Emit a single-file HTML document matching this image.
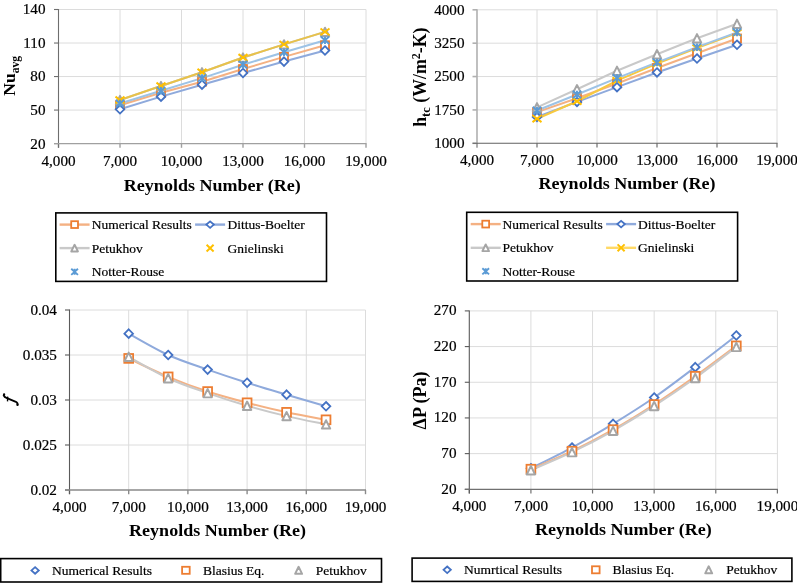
<!DOCTYPE html><html><head><meta charset="utf-8"><style>html,body{margin:0;padding:0;background:#fff;}svg{display:block;will-change:transform;}</style></head><body>
<svg width="797" height="583" viewBox="0 0 797 583">
<rect width="797" height="583" fill="#fff"/>
<line x1="58.5" y1="110.07" x2="366" y2="110.07" stroke="#DCDCDC" stroke-width="1"/>
<line x1="58.5" y1="76.55" x2="366" y2="76.55" stroke="#DCDCDC" stroke-width="1"/>
<line x1="58.5" y1="43.03" x2="366" y2="43.03" stroke="#DCDCDC" stroke-width="1"/>
<line x1="58.5" y1="9.5" x2="366" y2="9.5" stroke="#DCDCDC" stroke-width="1"/>
<line x1="120" y1="9.5" x2="120" y2="143.6" stroke="#DCDCDC" stroke-width="1"/>
<line x1="181.5" y1="9.5" x2="181.5" y2="143.6" stroke="#DCDCDC" stroke-width="1"/>
<line x1="243" y1="9.5" x2="243" y2="143.6" stroke="#DCDCDC" stroke-width="1"/>
<line x1="304.5" y1="9.5" x2="304.5" y2="143.6" stroke="#DCDCDC" stroke-width="1"/>
<line x1="366" y1="9.5" x2="366" y2="143.6" stroke="#DCDCDC" stroke-width="1"/>
<line x1="54" y1="143.6" x2="58.5" y2="143.6" stroke="#6e6e6e" stroke-width="1.1"/>
<line x1="54" y1="110.07" x2="58.5" y2="110.07" stroke="#6e6e6e" stroke-width="1.1"/>
<line x1="54" y1="76.55" x2="58.5" y2="76.55" stroke="#6e6e6e" stroke-width="1.1"/>
<line x1="54" y1="43.03" x2="58.5" y2="43.03" stroke="#6e6e6e" stroke-width="1.1"/>
<line x1="54" y1="9.5" x2="58.5" y2="9.5" stroke="#6e6e6e" stroke-width="1.1"/>
<line x1="58.5" y1="143.6" x2="58.5" y2="147.8" stroke="#a0a0a0" stroke-width="1.4"/>
<line x1="120" y1="143.6" x2="120" y2="147.8" stroke="#a0a0a0" stroke-width="1.4"/>
<line x1="181.5" y1="143.6" x2="181.5" y2="147.8" stroke="#a0a0a0" stroke-width="1.4"/>
<line x1="243" y1="143.6" x2="243" y2="147.8" stroke="#a0a0a0" stroke-width="1.4"/>
<line x1="304.5" y1="143.6" x2="304.5" y2="147.8" stroke="#a0a0a0" stroke-width="1.4"/>
<line x1="366" y1="143.6" x2="366" y2="147.8" stroke="#a0a0a0" stroke-width="1.4"/>
<line x1="58.5" y1="9" x2="58.5" y2="147.8" stroke="#6e6e6e" stroke-width="1.1"/>
<line x1="54" y1="143.6" x2="366.5" y2="143.6" stroke="#a0a0a0" stroke-width="1.4"/>
<g font-family='"Liberation Serif", serif' font-size="14.3" fill="#000" stroke="#000" stroke-width="0.2">
<text transform="translate(45.5 148.5) scale(1.06 1)" text-anchor="end">20</text>
<text transform="translate(45.5 114.97) scale(1.06 1)" text-anchor="end">50</text>
<text transform="translate(45.5 81.45) scale(1.06 1)" text-anchor="end">80</text>
<text transform="translate(45.5 47.93) scale(1.06 1)" text-anchor="end">110</text>
<text transform="translate(45.5 14.4) scale(1.06 1)" text-anchor="end">140</text>
<text transform="translate(58.5 166.1) scale(1.06 1)" text-anchor="middle">4,000</text>
<text transform="translate(120 166.1) scale(1.06 1)" text-anchor="middle">7,000</text>
<text transform="translate(181.5 166.1) scale(1.06 1)" text-anchor="middle">10,000</text>
<text transform="translate(243 166.1) scale(1.06 1)" text-anchor="middle">13,000</text>
<text transform="translate(304.5 166.1) scale(1.06 1)" text-anchor="middle">16,000</text>
<text transform="translate(366 166.1) scale(1.06 1)" text-anchor="middle">19,000</text>
</g>
<text transform="translate(212.25 190.5) scale(1.03 1)" text-anchor="middle" font-family='"Liberation Serif", serif' font-weight="bold" font-size="17.5">Reynolds Number (Re)</text>
<text transform="translate(15.2 95.7) rotate(-90)" font-family='"Liberation Serif", serif' font-weight="bold" font-size="17.5">Nu<tspan font-size="11.6" dy="3.8">avg</tspan></text>
<path d="M120 105.27L161 92.75L202 81.69L243 69.06L284 56.88L325 45.26" fill="none" stroke="#F4B183" stroke-width="2" stroke-linejoin="round"/>
<path d="M120 109.29L161 96.66L202 84.71L243 72.97L284 61.58L325 50.51" fill="none" stroke="#8FAADC" stroke-width="2" stroke-linejoin="round"/>
<path d="M120 100.02L161 86.05L202 72.3L243 57.55L284 44.37L325 31.85" fill="none" stroke="#C9C9C9" stroke-width="2" stroke-linejoin="round"/>
<path d="M120 100.02L161 86.05L202 72.3L243 57.55L284 44.37L325 31.85" fill="none" stroke="#E8C24A" stroke-width="2" stroke-linejoin="round"/>
<path d="M120 103.48L161 90.74L202 78.11L243 64.7L284 52.19L325 40.23" fill="none" stroke="#9DC3E6" stroke-width="2" stroke-linejoin="round"/>
<rect x="116" y="101.27" width="8" height="8" fill="#fff" stroke="#ED7D31" stroke-width="1.8"/>
<rect x="157" y="88.75" width="8" height="8" fill="#fff" stroke="#ED7D31" stroke-width="1.8"/>
<rect x="198" y="77.69" width="8" height="8" fill="#fff" stroke="#ED7D31" stroke-width="1.8"/>
<rect x="239" y="65.06" width="8" height="8" fill="#fff" stroke="#ED7D31" stroke-width="1.8"/>
<rect x="280" y="52.88" width="8" height="8" fill="#fff" stroke="#ED7D31" stroke-width="1.8"/>
<rect x="321" y="41.26" width="8" height="8" fill="#fff" stroke="#ED7D31" stroke-width="1.8"/>
<path d="M120 104.99L124.3 109.29L120 113.59L115.7 109.29Z" fill="#fff" stroke="#4472C4" stroke-width="1.8"/>
<path d="M161 92.36L165.3 96.66L161 100.96L156.7 96.66Z" fill="#fff" stroke="#4472C4" stroke-width="1.8"/>
<path d="M202 80.41L206.3 84.71L202 89.01L197.7 84.71Z" fill="#fff" stroke="#4472C4" stroke-width="1.8"/>
<path d="M243 68.67L247.3 72.97L243 77.27L238.7 72.97Z" fill="#fff" stroke="#4472C4" stroke-width="1.8"/>
<path d="M284 57.28L288.3 61.58L284 65.88L279.7 61.58Z" fill="#fff" stroke="#4472C4" stroke-width="1.8"/>
<path d="M325 46.21L329.3 50.51L325 54.81L320.7 50.51Z" fill="#fff" stroke="#4472C4" stroke-width="1.8"/>
<path d="M120 95.82L124.2 104.22L115.8 104.22Z" fill="#fff" stroke="#A5A5A5" stroke-width="1.95" stroke-linejoin="round"/>
<path d="M161 81.85L165.2 90.25L156.8 90.25Z" fill="#fff" stroke="#A5A5A5" stroke-width="1.95" stroke-linejoin="round"/>
<path d="M202 68.1L206.2 76.5L197.8 76.5Z" fill="#fff" stroke="#A5A5A5" stroke-width="1.95" stroke-linejoin="round"/>
<path d="M243 53.35L247.2 61.75L238.8 61.75Z" fill="#fff" stroke="#A5A5A5" stroke-width="1.95" stroke-linejoin="round"/>
<path d="M284 40.17L288.2 48.57L279.8 48.57Z" fill="#fff" stroke="#A5A5A5" stroke-width="1.95" stroke-linejoin="round"/>
<path d="M325 27.65L329.2 36.05L320.8 36.05Z" fill="#fff" stroke="#A5A5A5" stroke-width="1.95" stroke-linejoin="round"/>
<path d="M115.5 96.62L124.5 103.42M124.5 96.62L115.5 103.42" stroke="#FFC000" stroke-width="1.95" fill="none"/>
<path d="M156.5 82.65L165.5 89.45M165.5 82.65L156.5 89.45" stroke="#FFC000" stroke-width="1.95" fill="none"/>
<path d="M197.5 68.9L206.5 75.7M206.5 68.9L197.5 75.7" stroke="#FFC000" stroke-width="1.95" fill="none"/>
<path d="M238.5 54.15L247.5 60.95M247.5 54.15L238.5 60.95" stroke="#FFC000" stroke-width="1.95" fill="none"/>
<path d="M279.5 40.97L288.5 47.77M288.5 40.97L279.5 47.77" stroke="#FFC000" stroke-width="1.95" fill="none"/>
<path d="M320.5 28.45L329.5 35.25M329.5 28.45L320.5 35.25" stroke="#FFC000" stroke-width="1.95" fill="none"/>
<path d="M115.8 99.68L124.2 107.28M124.2 99.68L115.8 107.28M120 99.68L120 107.28" stroke="#5B9BD5" stroke-width="1.9" fill="none"/>
<path d="M156.8 86.94L165.2 94.54M165.2 86.94L156.8 94.54M161 86.94L161 94.54" stroke="#5B9BD5" stroke-width="1.9" fill="none"/>
<path d="M197.8 74.31L206.2 81.91M206.2 74.31L197.8 81.91M202 74.31L202 81.91" stroke="#5B9BD5" stroke-width="1.9" fill="none"/>
<path d="M238.8 60.9L247.2 68.5M247.2 60.9L238.8 68.5M243 60.9L243 68.5" stroke="#5B9BD5" stroke-width="1.9" fill="none"/>
<path d="M279.8 48.39L288.2 55.99M288.2 48.39L279.8 55.99M284 48.39L284 55.99" stroke="#5B9BD5" stroke-width="1.9" fill="none"/>
<path d="M320.8 36.43L329.2 44.03M329.2 36.43L320.8 44.03M325 36.43L325 44.03" stroke="#5B9BD5" stroke-width="1.9" fill="none"/>
<line x1="477" y1="109.93" x2="777" y2="109.93" stroke="#DCDCDC" stroke-width="1"/>
<line x1="477" y1="76.55" x2="777" y2="76.55" stroke="#DCDCDC" stroke-width="1"/>
<line x1="477" y1="43.18" x2="777" y2="43.18" stroke="#DCDCDC" stroke-width="1"/>
<line x1="477" y1="9.8" x2="777" y2="9.8" stroke="#DCDCDC" stroke-width="1"/>
<line x1="537" y1="9.8" x2="537" y2="143.3" stroke="#DCDCDC" stroke-width="1"/>
<line x1="597" y1="9.8" x2="597" y2="143.3" stroke="#DCDCDC" stroke-width="1"/>
<line x1="657" y1="9.8" x2="657" y2="143.3" stroke="#DCDCDC" stroke-width="1"/>
<line x1="717" y1="9.8" x2="717" y2="143.3" stroke="#DCDCDC" stroke-width="1"/>
<line x1="777" y1="9.8" x2="777" y2="143.3" stroke="#DCDCDC" stroke-width="1"/>
<line x1="472.5" y1="143.3" x2="477" y2="143.3" stroke="#b0b0b0" stroke-width="1.6"/>
<line x1="472.5" y1="109.93" x2="477" y2="109.93" stroke="#b0b0b0" stroke-width="1.6"/>
<line x1="472.5" y1="76.55" x2="477" y2="76.55" stroke="#b0b0b0" stroke-width="1.6"/>
<line x1="472.5" y1="43.18" x2="477" y2="43.18" stroke="#b0b0b0" stroke-width="1.6"/>
<line x1="472.5" y1="9.8" x2="477" y2="9.8" stroke="#b0b0b0" stroke-width="1.6"/>
<line x1="477" y1="143.3" x2="477" y2="147.5" stroke="#606060" stroke-width="1.1"/>
<line x1="537" y1="143.3" x2="537" y2="147.5" stroke="#606060" stroke-width="1.1"/>
<line x1="597" y1="143.3" x2="597" y2="147.5" stroke="#606060" stroke-width="1.1"/>
<line x1="657" y1="143.3" x2="657" y2="147.5" stroke="#606060" stroke-width="1.1"/>
<line x1="717" y1="143.3" x2="717" y2="147.5" stroke="#606060" stroke-width="1.1"/>
<line x1="777" y1="143.3" x2="777" y2="147.5" stroke="#606060" stroke-width="1.1"/>
<line x1="477" y1="9.3" x2="477" y2="147.5" stroke="#b0b0b0" stroke-width="1.6"/>
<line x1="472.5" y1="143.3" x2="777.5" y2="143.3" stroke="#606060" stroke-width="1.1"/>
<g font-family='"Liberation Serif", serif' font-size="14.3" fill="#000" stroke="#000" stroke-width="0.2">
<text transform="translate(464.5 148.2) scale(1.06 1)" text-anchor="end">1000</text>
<text transform="translate(464.5 114.83) scale(1.06 1)" text-anchor="end">1750</text>
<text transform="translate(464.5 81.45) scale(1.06 1)" text-anchor="end">2500</text>
<text transform="translate(464.5 48.08) scale(1.06 1)" text-anchor="end">3250</text>
<text transform="translate(464.5 14.7) scale(1.06 1)" text-anchor="end">4000</text>
<text transform="translate(477 164.6) scale(1.06 1)" text-anchor="middle">4,000</text>
<text transform="translate(537 164.6) scale(1.06 1)" text-anchor="middle">7,000</text>
<text transform="translate(597 164.6) scale(1.06 1)" text-anchor="middle">10,000</text>
<text transform="translate(657 164.6) scale(1.06 1)" text-anchor="middle">13,000</text>
<text transform="translate(717 164.6) scale(1.06 1)" text-anchor="middle">16,000</text>
<text transform="translate(777 164.6) scale(1.06 1)" text-anchor="middle">19,000</text>
</g>
<text transform="translate(627 189.2) scale(1.03 1)" text-anchor="middle" font-family='"Liberation Serif", serif' font-weight="bold" font-size="17.5">Reynolds Number (Re)</text>
<text transform="translate(426.3 126.8) rotate(-90)" font-family='"Liberation Serif", serif' font-weight="bold" font-size="17.8">h<tspan font-size="12.5" dy="3.6">tc</tspan><tspan dy="-3.6"> (W/m</tspan><tspan font-size="12" dy="-6">2</tspan><tspan dy="6">-K)</tspan></text>
<path d="M537 112.15L577 98.27L617 83.45L657 68.01L697 53.19L737 38.5" fill="none" stroke="#F4B183" stroke-width="2" stroke-linejoin="round"/>
<path d="M537 117.05L577 101.92L617 87.14L657 72.46L697 58.53L737 44.78" fill="none" stroke="#8FAADC" stroke-width="2" stroke-linejoin="round"/>
<path d="M537 107.34L577 89.23L617 70.77L657 54.26L697 38.28L737 23.77" fill="none" stroke="#C9C9C9" stroke-width="2" stroke-linejoin="round"/>
<path d="M537 118.74L577 101.25L617 80.56L657 63.65L697 48.07L737 32.94" fill="none" stroke="#F7C940" stroke-width="2" stroke-linejoin="round"/>
<path d="M537 110.5L577 94.48L617 78.11L657 62.44L697 47.18L737 32.36" fill="none" stroke="#9DC3E6" stroke-width="2" stroke-linejoin="round"/>
<rect x="533" y="108.15" width="8" height="8" fill="#fff" stroke="#ED7D31" stroke-width="1.8"/>
<rect x="573" y="94.27" width="8" height="8" fill="#fff" stroke="#ED7D31" stroke-width="1.8"/>
<rect x="613" y="79.45" width="8" height="8" fill="#fff" stroke="#ED7D31" stroke-width="1.8"/>
<rect x="653" y="64.01" width="8" height="8" fill="#fff" stroke="#ED7D31" stroke-width="1.8"/>
<rect x="693" y="49.19" width="8" height="8" fill="#fff" stroke="#ED7D31" stroke-width="1.8"/>
<rect x="733" y="34.5" width="8" height="8" fill="#fff" stroke="#ED7D31" stroke-width="1.8"/>
<path d="M537 112.75L541.3 117.05L537 121.35L532.7 117.05Z" fill="#fff" stroke="#4472C4" stroke-width="1.8"/>
<path d="M577 97.62L581.3 101.92L577 106.22L572.7 101.92Z" fill="#fff" stroke="#4472C4" stroke-width="1.8"/>
<path d="M617 82.84L621.3 87.14L617 91.44L612.7 87.14Z" fill="#fff" stroke="#4472C4" stroke-width="1.8"/>
<path d="M657 68.16L661.3 72.46L657 76.76L652.7 72.46Z" fill="#fff" stroke="#4472C4" stroke-width="1.8"/>
<path d="M697 54.23L701.3 58.53L697 62.83L692.7 58.53Z" fill="#fff" stroke="#4472C4" stroke-width="1.8"/>
<path d="M737 40.48L741.3 44.78L737 49.08L732.7 44.78Z" fill="#fff" stroke="#4472C4" stroke-width="1.8"/>
<path d="M537 103.14L541.2 111.54L532.8 111.54Z" fill="#fff" stroke="#A5A5A5" stroke-width="1.95" stroke-linejoin="round"/>
<path d="M577 85.03L581.2 93.43L572.8 93.43Z" fill="#fff" stroke="#A5A5A5" stroke-width="1.95" stroke-linejoin="round"/>
<path d="M617 66.57L621.2 74.97L612.8 74.97Z" fill="#fff" stroke="#A5A5A5" stroke-width="1.95" stroke-linejoin="round"/>
<path d="M657 50.06L661.2 58.46L652.8 58.46Z" fill="#fff" stroke="#A5A5A5" stroke-width="1.95" stroke-linejoin="round"/>
<path d="M697 34.08L701.2 42.48L692.8 42.48Z" fill="#fff" stroke="#A5A5A5" stroke-width="1.95" stroke-linejoin="round"/>
<path d="M737 19.57L741.2 27.97L732.8 27.97Z" fill="#fff" stroke="#A5A5A5" stroke-width="1.95" stroke-linejoin="round"/>
<path d="M532.5 115.34L541.5 122.14M541.5 115.34L532.5 122.14" stroke="#FFC000" stroke-width="1.95" fill="none"/>
<path d="M572.5 97.85L581.5 104.65M581.5 97.85L572.5 104.65" stroke="#FFC000" stroke-width="1.95" fill="none"/>
<path d="M612.5 77.16L621.5 83.96M621.5 77.16L612.5 83.96" stroke="#FFC000" stroke-width="1.95" fill="none"/>
<path d="M652.5 60.25L661.5 67.05M661.5 60.25L652.5 67.05" stroke="#FFC000" stroke-width="1.95" fill="none"/>
<path d="M692.5 44.67L701.5 51.47M701.5 44.67L692.5 51.47" stroke="#FFC000" stroke-width="1.95" fill="none"/>
<path d="M732.5 29.54L741.5 36.34M741.5 29.54L732.5 36.34" stroke="#FFC000" stroke-width="1.95" fill="none"/>
<path d="M532.8 106.7L541.2 114.3M541.2 106.7L532.8 114.3M537 106.7L537 114.3" stroke="#5B9BD5" stroke-width="1.9" fill="none"/>
<path d="M572.8 90.68L581.2 98.28M581.2 90.68L572.8 98.28M577 90.68L577 98.28" stroke="#5B9BD5" stroke-width="1.9" fill="none"/>
<path d="M612.8 74.31L621.2 81.91M621.2 74.31L612.8 81.91M617 74.31L617 81.91" stroke="#5B9BD5" stroke-width="1.9" fill="none"/>
<path d="M652.8 58.64L661.2 66.24M661.2 58.64L652.8 66.24M657 58.64L657 66.24" stroke="#5B9BD5" stroke-width="1.9" fill="none"/>
<path d="M692.8 43.38L701.2 50.98M701.2 43.38L692.8 50.98M697 43.38L697 50.98" stroke="#5B9BD5" stroke-width="1.9" fill="none"/>
<path d="M732.8 28.56L741.2 36.16M741.2 28.56L732.8 36.16M737 28.56L737 36.16" stroke="#5B9BD5" stroke-width="1.9" fill="none"/>
<line x1="69.5" y1="445" x2="365.5" y2="445" stroke="#DCDCDC" stroke-width="1"/>
<line x1="69.5" y1="400" x2="365.5" y2="400" stroke="#DCDCDC" stroke-width="1"/>
<line x1="69.5" y1="355" x2="365.5" y2="355" stroke="#DCDCDC" stroke-width="1"/>
<line x1="69.5" y1="310" x2="365.5" y2="310" stroke="#DCDCDC" stroke-width="1"/>
<line x1="128.7" y1="310" x2="128.7" y2="490" stroke="#DCDCDC" stroke-width="1"/>
<line x1="187.9" y1="310" x2="187.9" y2="490" stroke="#DCDCDC" stroke-width="1"/>
<line x1="247.1" y1="310" x2="247.1" y2="490" stroke="#DCDCDC" stroke-width="1"/>
<line x1="306.3" y1="310" x2="306.3" y2="490" stroke="#DCDCDC" stroke-width="1"/>
<line x1="365.5" y1="310" x2="365.5" y2="490" stroke="#DCDCDC" stroke-width="1"/>
<line x1="65" y1="490" x2="69.5" y2="490" stroke="#5a5a5a" stroke-width="1.1"/>
<line x1="65" y1="445" x2="69.5" y2="445" stroke="#5a5a5a" stroke-width="1.1"/>
<line x1="65" y1="400" x2="69.5" y2="400" stroke="#5a5a5a" stroke-width="1.1"/>
<line x1="65" y1="355" x2="69.5" y2="355" stroke="#5a5a5a" stroke-width="1.1"/>
<line x1="65" y1="310" x2="69.5" y2="310" stroke="#5a5a5a" stroke-width="1.1"/>
<line x1="69.5" y1="490" x2="69.5" y2="494.2" stroke="#8a8a8a" stroke-width="1.4"/>
<line x1="128.7" y1="490" x2="128.7" y2="494.2" stroke="#8a8a8a" stroke-width="1.4"/>
<line x1="187.9" y1="490" x2="187.9" y2="494.2" stroke="#8a8a8a" stroke-width="1.4"/>
<line x1="247.1" y1="490" x2="247.1" y2="494.2" stroke="#8a8a8a" stroke-width="1.4"/>
<line x1="306.3" y1="490" x2="306.3" y2="494.2" stroke="#8a8a8a" stroke-width="1.4"/>
<line x1="365.5" y1="490" x2="365.5" y2="494.2" stroke="#8a8a8a" stroke-width="1.4"/>
<line x1="69.5" y1="309.5" x2="69.5" y2="494.2" stroke="#5a5a5a" stroke-width="1.1"/>
<line x1="65" y1="490" x2="366" y2="490" stroke="#8a8a8a" stroke-width="1.4"/>
<g font-family='"Liberation Serif", serif' font-size="14.3" fill="#000" stroke="#000" stroke-width="0.2">
<text transform="translate(56.9 494.9) scale(1.06 1)" text-anchor="end">0.02</text>
<text transform="translate(56.9 449.9) scale(1.06 1)" text-anchor="end">0.025</text>
<text transform="translate(56.9 404.9) scale(1.06 1)" text-anchor="end">0.03</text>
<text transform="translate(56.9 359.9) scale(1.06 1)" text-anchor="end">0.035</text>
<text transform="translate(56.9 314.9) scale(1.06 1)" text-anchor="end">0.04</text>
<text transform="translate(69.5 511.9) scale(1.06 1)" text-anchor="middle">4,000</text>
<text transform="translate(128.7 511.9) scale(1.06 1)" text-anchor="middle">7,000</text>
<text transform="translate(187.9 511.9) scale(1.06 1)" text-anchor="middle">10,000</text>
<text transform="translate(247.1 511.9) scale(1.06 1)" text-anchor="middle">13,000</text>
<text transform="translate(306.3 511.9) scale(1.06 1)" text-anchor="middle">16,000</text>
<text transform="translate(365.5 511.9) scale(1.06 1)" text-anchor="middle">19,000</text>
</g>
<text transform="translate(217.5 535.6) scale(1.03 1)" text-anchor="middle" font-family='"Liberation Serif", serif' font-weight="bold" font-size="17.5">Reynolds Number (Re)</text>
<g fill="#000" stroke="#000" stroke-linecap="round"><path d="M3.7 395.4Q4.3 397.2 7 398.1L15.3 401.5Q17.9 402.7 17.6 404.6" fill="none" stroke-width="1.9"/><circle cx="4.1" cy="394.5" r="1.15" stroke="none"/><circle cx="17.5" cy="404.9" r="1.1" stroke="none"/><path d="M7.7 396.6L7.5 401.4" stroke-width="1.4" stroke-linecap="butt"/></g>
<path d="M128.7 333.67C135.28 337.23 155.01 349.01 168.17 355C181.32 360.99 194.48 364.96 207.63 369.58C220.79 374.2 233.94 378.54 247.1 382.72C260.26 386.91 273.41 390.76 286.57 394.69C299.72 398.62 319.46 404.37 326.03 406.3" fill="none" stroke="#8FAADC" stroke-width="2" stroke-linejoin="round"/>
<path d="M128.7 358.42C135.28 361.5 155.01 371.35 168.17 376.87C181.32 382.39 194.48 387.22 207.63 391.54C220.79 395.86 233.94 399.32 247.1 402.79C260.26 406.25 273.41 409.5 286.57 412.33C299.72 415.17 319.46 418.56 326.03 419.8" fill="none" stroke="#F4B183" stroke-width="2" stroke-linejoin="round"/>
<path d="M128.7 356.8C135.28 360.37 155.01 372.16 168.17 378.22C181.32 384.28 194.48 388.57 207.63 393.16C220.79 397.75 233.94 401.94 247.1 405.76C260.26 409.58 273.41 413 286.57 416.11C299.72 419.22 319.46 423.01 326.03 424.39" fill="none" stroke="#C9C9C9" stroke-width="2" stroke-linejoin="round"/>
<path d="M128.7 329.37L133 333.67L128.7 337.97L124.4 333.67Z" fill="#fff" stroke="#4472C4" stroke-width="1.8"/>
<path d="M168.17 350.7L172.47 355L168.17 359.3L163.87 355Z" fill="#fff" stroke="#4472C4" stroke-width="1.8"/>
<path d="M207.63 365.28L211.93 369.58L207.63 373.88L203.33 369.58Z" fill="#fff" stroke="#4472C4" stroke-width="1.8"/>
<path d="M247.1 378.42L251.4 382.72L247.1 387.02L242.8 382.72Z" fill="#fff" stroke="#4472C4" stroke-width="1.8"/>
<path d="M286.57 390.39L290.87 394.69L286.57 398.99L282.27 394.69Z" fill="#fff" stroke="#4472C4" stroke-width="1.8"/>
<path d="M326.03 402L330.33 406.3L326.03 410.6L321.73 406.3Z" fill="#fff" stroke="#4472C4" stroke-width="1.8"/>
<rect x="124.3" y="354.02" width="8.8" height="8.8" fill="#fff" stroke="#ED7D31" stroke-width="1.8"/>
<rect x="163.77" y="372.47" width="8.8" height="8.8" fill="#fff" stroke="#ED7D31" stroke-width="1.8"/>
<rect x="203.23" y="387.14" width="8.8" height="8.8" fill="#fff" stroke="#ED7D31" stroke-width="1.8"/>
<rect x="242.7" y="398.39" width="8.8" height="8.8" fill="#fff" stroke="#ED7D31" stroke-width="1.8"/>
<rect x="282.17" y="407.93" width="8.8" height="8.8" fill="#fff" stroke="#ED7D31" stroke-width="1.8"/>
<rect x="321.63" y="415.4" width="8.8" height="8.8" fill="#fff" stroke="#ED7D31" stroke-width="1.8"/>
<path d="M128.7 352.6L132.9 361L124.5 361Z" fill="#fff" stroke="#A5A5A5" stroke-width="1.95" stroke-linejoin="round"/>
<path d="M168.17 374.02L172.37 382.42L163.97 382.42Z" fill="#fff" stroke="#A5A5A5" stroke-width="1.95" stroke-linejoin="round"/>
<path d="M207.63 388.96L211.83 397.36L203.43 397.36Z" fill="#fff" stroke="#A5A5A5" stroke-width="1.95" stroke-linejoin="round"/>
<path d="M247.1 401.56L251.3 409.96L242.9 409.96Z" fill="#fff" stroke="#A5A5A5" stroke-width="1.95" stroke-linejoin="round"/>
<path d="M286.57 411.91L290.77 420.31L282.37 420.31Z" fill="#fff" stroke="#A5A5A5" stroke-width="1.95" stroke-linejoin="round"/>
<path d="M326.03 420.19L330.23 428.59L321.83 428.59Z" fill="#fff" stroke="#A5A5A5" stroke-width="1.95" stroke-linejoin="round"/>
<line x1="469.3" y1="453.62" x2="777.4" y2="453.62" stroke="#DCDCDC" stroke-width="1"/>
<line x1="469.3" y1="417.94" x2="777.4" y2="417.94" stroke="#DCDCDC" stroke-width="1"/>
<line x1="469.3" y1="382.26" x2="777.4" y2="382.26" stroke="#DCDCDC" stroke-width="1"/>
<line x1="469.3" y1="346.58" x2="777.4" y2="346.58" stroke="#DCDCDC" stroke-width="1"/>
<line x1="469.3" y1="310.9" x2="777.4" y2="310.9" stroke="#DCDCDC" stroke-width="1"/>
<line x1="530.92" y1="310.9" x2="530.92" y2="489.3" stroke="#DCDCDC" stroke-width="1"/>
<line x1="592.54" y1="310.9" x2="592.54" y2="489.3" stroke="#DCDCDC" stroke-width="1"/>
<line x1="654.16" y1="310.9" x2="654.16" y2="489.3" stroke="#DCDCDC" stroke-width="1"/>
<line x1="715.78" y1="310.9" x2="715.78" y2="489.3" stroke="#DCDCDC" stroke-width="1"/>
<line x1="777.4" y1="310.9" x2="777.4" y2="489.3" stroke="#DCDCDC" stroke-width="1"/>
<line x1="464.8" y1="489.3" x2="469.3" y2="489.3" stroke="#5a5a5a" stroke-width="1.1"/>
<line x1="464.8" y1="453.62" x2="469.3" y2="453.62" stroke="#5a5a5a" stroke-width="1.1"/>
<line x1="464.8" y1="417.94" x2="469.3" y2="417.94" stroke="#5a5a5a" stroke-width="1.1"/>
<line x1="464.8" y1="382.26" x2="469.3" y2="382.26" stroke="#5a5a5a" stroke-width="1.1"/>
<line x1="464.8" y1="346.58" x2="469.3" y2="346.58" stroke="#5a5a5a" stroke-width="1.1"/>
<line x1="464.8" y1="310.9" x2="469.3" y2="310.9" stroke="#5a5a5a" stroke-width="1.1"/>
<line x1="469.3" y1="489.3" x2="469.3" y2="493.5" stroke="#707070" stroke-width="1.2"/>
<line x1="530.92" y1="489.3" x2="530.92" y2="493.5" stroke="#707070" stroke-width="1.2"/>
<line x1="592.54" y1="489.3" x2="592.54" y2="493.5" stroke="#707070" stroke-width="1.2"/>
<line x1="654.16" y1="489.3" x2="654.16" y2="493.5" stroke="#707070" stroke-width="1.2"/>
<line x1="715.78" y1="489.3" x2="715.78" y2="493.5" stroke="#707070" stroke-width="1.2"/>
<line x1="777.4" y1="489.3" x2="777.4" y2="493.5" stroke="#707070" stroke-width="1.2"/>
<line x1="469.3" y1="310.4" x2="469.3" y2="493.5" stroke="#5a5a5a" stroke-width="1.1"/>
<line x1="464.8" y1="489.3" x2="777.9" y2="489.3" stroke="#707070" stroke-width="1.2"/>
<g font-family='"Liberation Serif", serif' font-size="14.3" fill="#000" stroke="#000" stroke-width="0.2">
<text transform="translate(456.5 493.6) scale(1.06 1)" text-anchor="end">20</text>
<text transform="translate(456.5 457.92) scale(1.06 1)" text-anchor="end">70</text>
<text transform="translate(456.5 422.24) scale(1.06 1)" text-anchor="end">120</text>
<text transform="translate(456.5 386.56) scale(1.06 1)" text-anchor="end">170</text>
<text transform="translate(456.5 350.88) scale(1.06 1)" text-anchor="end">220</text>
<text transform="translate(456.5 315.2) scale(1.06 1)" text-anchor="end">270</text>
<text transform="translate(469.3 510.8) scale(1.06 1)" text-anchor="middle">4,000</text>
<text transform="translate(530.92 510.8) scale(1.06 1)" text-anchor="middle">7,000</text>
<text transform="translate(592.54 510.8) scale(1.06 1)" text-anchor="middle">10,000</text>
<text transform="translate(654.16 510.8) scale(1.06 1)" text-anchor="middle">13,000</text>
<text transform="translate(715.78 510.8) scale(1.06 1)" text-anchor="middle">16,000</text>
<text transform="translate(777.4 510.8) scale(1.06 1)" text-anchor="middle">19,000</text>
</g>
<text transform="translate(623.35 535.2) scale(1.03 1)" text-anchor="middle" font-family='"Liberation Serif", serif' font-weight="bold" font-size="17.5">Reynolds Number (Re)</text>
<text transform="translate(425.8 429.4) rotate(-90)" font-family='"Liberation Serif", serif' font-weight="bold" font-size="18">ΔP (Pa)</text>
<path d="M530.92 468.25C537.77 464.8 558.31 454.95 572 447.55C585.69 440.16 599.39 432.2 613.08 423.86C626.77 415.53 640.47 406.99 654.16 397.53C667.85 388.08 681.55 377.47 695.24 367.13C708.93 356.8 729.47 340.79 736.32 335.52" fill="none" stroke="#8FAADC" stroke-width="2" stroke-linejoin="round"/>
<path d="M530.92 469.18C537.77 466.18 558.31 457.78 572 451.19C585.69 444.6 599.39 437.42 613.08 429.64C626.77 421.86 640.47 413.42 654.16 404.52C667.85 395.63 681.55 386.04 695.24 376.27C708.93 366.49 729.47 350.93 736.32 345.87" fill="none" stroke="#F4B183" stroke-width="2" stroke-linejoin="round"/>
<path d="M530.92 470.25C537.77 467.24 558.31 458.77 572 452.19C585.69 445.62 599.39 438.49 613.08 430.78C626.77 423.08 640.47 414.75 654.16 405.95C667.85 397.15 681.55 387.81 695.24 377.98C708.93 368.14 729.47 352.11 736.32 346.94" fill="none" stroke="#C9C9C9" stroke-width="2" stroke-linejoin="round"/>
<path d="M530.92 463.95L535.22 468.25L530.92 472.55L526.62 468.25Z" fill="#fff" stroke="#4472C4" stroke-width="1.8"/>
<path d="M572 443.25L576.3 447.55L572 451.85L567.7 447.55Z" fill="#fff" stroke="#4472C4" stroke-width="1.8"/>
<path d="M613.08 419.56L617.38 423.86L613.08 428.16L608.78 423.86Z" fill="#fff" stroke="#4472C4" stroke-width="1.8"/>
<path d="M654.16 393.23L658.46 397.53L654.16 401.83L649.86 397.53Z" fill="#fff" stroke="#4472C4" stroke-width="1.8"/>
<path d="M695.24 362.83L699.54 367.13L695.24 371.43L690.94 367.13Z" fill="#fff" stroke="#4472C4" stroke-width="1.8"/>
<path d="M736.32 331.22L740.62 335.52L736.32 339.82L732.02 335.52Z" fill="#fff" stroke="#4472C4" stroke-width="1.8"/>
<rect x="526.52" y="464.78" width="8.8" height="8.8" fill="#fff" stroke="#ED7D31" stroke-width="1.8"/>
<rect x="567.6" y="446.79" width="8.8" height="8.8" fill="#fff" stroke="#ED7D31" stroke-width="1.8"/>
<rect x="608.68" y="425.24" width="8.8" height="8.8" fill="#fff" stroke="#ED7D31" stroke-width="1.8"/>
<rect x="649.76" y="400.12" width="8.8" height="8.8" fill="#fff" stroke="#ED7D31" stroke-width="1.8"/>
<rect x="690.84" y="371.87" width="8.8" height="8.8" fill="#fff" stroke="#ED7D31" stroke-width="1.8"/>
<rect x="731.92" y="341.47" width="8.8" height="8.8" fill="#fff" stroke="#ED7D31" stroke-width="1.8"/>
<path d="M530.92 466.05L535.12 474.45L526.72 474.45Z" fill="#fff" stroke="#A5A5A5" stroke-width="1.95" stroke-linejoin="round"/>
<path d="M572 447.99L576.2 456.39L567.8 456.39Z" fill="#fff" stroke="#A5A5A5" stroke-width="1.95" stroke-linejoin="round"/>
<path d="M613.08 426.58L617.28 434.98L608.88 434.98Z" fill="#fff" stroke="#A5A5A5" stroke-width="1.95" stroke-linejoin="round"/>
<path d="M654.16 401.75L658.36 410.15L649.96 410.15Z" fill="#fff" stroke="#A5A5A5" stroke-width="1.95" stroke-linejoin="round"/>
<path d="M695.24 373.78L699.44 382.18L691.04 382.18Z" fill="#fff" stroke="#A5A5A5" stroke-width="1.95" stroke-linejoin="round"/>
<path d="M736.32 342.74L740.52 351.14L732.12 351.14Z" fill="#fff" stroke="#A5A5A5" stroke-width="1.95" stroke-linejoin="round"/>
<rect x="55.8" y="212.9" width="270.7" height="68.5" fill="#fff" stroke="#000" stroke-width="1.6"/>
<line x1="59.6" y1="224.6" x2="89.6" y2="224.6" stroke="#F4B183" stroke-width="2.4"/>
<rect x="71.2" y="221.2" width="6.8" height="6.8" fill="#fff" stroke="#ED7D31" stroke-width="1.8"/>
<text x="91.7" y="229.2" font-family='"Liberation Serif", serif' font-size="13.5" fill="#000" stroke="#000" stroke-width="0.2">Numerical Results</text>
<line x1="195.1" y1="224.6" x2="225.1" y2="224.6" stroke="#8FAADC" stroke-width="2.4"/>
<path d="M210.1 221.33L213.84 224.6L210.1 227.87L206.36 224.6Z" fill="#fff" stroke="#4472C4" stroke-width="1.8"/>
<text x="227.6" y="229.2" font-family='"Liberation Serif", serif' font-size="13.5" fill="#000" stroke="#000" stroke-width="0.2">Dittus-Boelter</text>
<line x1="59.6" y1="248.1" x2="89.6" y2="248.1" stroke="#C9C9C9" stroke-width="2.4"/>
<path d="M74.6 244.78L77.92 251.42L71.28 251.42Z" fill="#fff" stroke="#A5A5A5" stroke-width="1.95" stroke-linejoin="round"/>
<text x="91.7" y="252.7" font-family='"Liberation Serif", serif' font-size="13.5" fill="#000" stroke="#000" stroke-width="0.2">Petukhov</text>
<path d="M206.59 244.7L213.61 251.5M213.61 244.7L206.59 251.5" stroke="#FFC000" stroke-width="1.95" fill="none"/>
<text x="227.6" y="252.7" font-family='"Liberation Serif", serif' font-size="13.5" fill="#000" stroke="#000" stroke-width="0.2">Gnielinski</text>
<path d="M71.24 268.76L77.96 274.84M77.96 268.76L71.24 274.84M74.6 268.76L74.6 274.84" stroke="#5B9BD5" stroke-width="1.9" fill="none"/>
<text x="91.7" y="276.4" font-family='"Liberation Serif", serif' font-size="13.5" fill="#000" stroke="#000" stroke-width="0.2">Notter-Rouse</text>
<rect x="466.7" y="212.3" width="270.9" height="68.7" fill="#fff" stroke="#000" stroke-width="1.6"/>
<line x1="470.7" y1="224.1" x2="500.7" y2="224.1" stroke="#F4B183" stroke-width="2.4"/>
<rect x="482.3" y="220.7" width="6.8" height="6.8" fill="#fff" stroke="#ED7D31" stroke-width="1.8"/>
<text x="502.6" y="228.7" font-family='"Liberation Serif", serif' font-size="13.5" fill="#000" stroke="#000" stroke-width="0.2">Numerical Results</text>
<line x1="606.1" y1="224.1" x2="636.1" y2="224.1" stroke="#8FAADC" stroke-width="2.4"/>
<path d="M621.1 220.83L624.84 224.1L621.1 227.37L617.36 224.1Z" fill="#fff" stroke="#4472C4" stroke-width="1.8"/>
<text x="637.9" y="228.7" font-family='"Liberation Serif", serif' font-size="13.5" fill="#000" stroke="#000" stroke-width="0.2">Dittus-Boelter</text>
<line x1="470.7" y1="247.8" x2="500.7" y2="247.8" stroke="#C9C9C9" stroke-width="2.4"/>
<path d="M485.7 244.48L489.02 251.12L482.38 251.12Z" fill="#fff" stroke="#A5A5A5" stroke-width="1.95" stroke-linejoin="round"/>
<text x="502.6" y="252.4" font-family='"Liberation Serif", serif' font-size="13.5" fill="#000" stroke="#000" stroke-width="0.2">Petukhov</text>
<line x1="606.1" y1="247.8" x2="636.1" y2="247.8" stroke="#FFD966" stroke-width="2.4"/>
<path d="M617.59 244.4L624.61 251.2M624.61 244.4L617.59 251.2" stroke="#FFC000" stroke-width="1.95" fill="none"/>
<text x="637.9" y="252.4" font-family='"Liberation Serif", serif' font-size="13.5" fill="#000" stroke="#000" stroke-width="0.2">Gnielinski</text>
<path d="M482.34 268.26L489.06 274.34M489.06 268.26L482.34 274.34M485.7 268.26L485.7 274.34" stroke="#5B9BD5" stroke-width="1.9" fill="none"/>
<text x="502.6" y="275.9" font-family='"Liberation Serif", serif' font-size="13.5" fill="#000" stroke="#000" stroke-width="0.2">Notter-Rouse</text>
<rect x="0.7" y="558.6" width="380.8" height="23.4" fill="#fff" stroke="#000" stroke-width="1.6"/>
<path d="M35.1 567.13L38.76 570.4L35.1 573.67L31.45 570.4Z" fill="#fff" stroke="#4472C4" stroke-width="1.8"/>
<text x="52" y="575" font-family='"Liberation Serif", serif' font-size="13.5" fill="#000" stroke="#000" stroke-width="0.2">Numerical Results</text>
<rect x="182.1" y="566.78" width="7.6" height="7.04" fill="#fff" stroke="#ED7D31" stroke-width="1.8"/>
<text x="202.9" y="574.9" font-family='"Liberation Serif", serif' font-size="13.5" fill="#000" stroke="#000" stroke-width="0.2">Blasius Eq.</text>
<path d="M298.6 566.77L302.09 573.83L295.11 573.83Z" fill="#fff" stroke="#A5A5A5" stroke-width="1.95" stroke-linejoin="round"/>
<text x="315.7" y="574.9" font-family='"Liberation Serif", serif' font-size="13.5" fill="#000" stroke="#000" stroke-width="0.2">Petukhov</text>
<rect x="412.1" y="558.1" width="379.8" height="23.3" fill="#fff" stroke="#000" stroke-width="1.6"/>
<path d="M447.2 566.53L450.85 569.8L447.2 573.07L443.55 569.8Z" fill="#fff" stroke="#4472C4" stroke-width="1.8"/>
<text x="464.1" y="574.4" font-family='"Liberation Serif", serif' font-size="13.5" fill="#000" stroke="#000" stroke-width="0.2">Numrtical Results</text>
<rect x="592" y="566.28" width="7.6" height="7.04" fill="#fff" stroke="#ED7D31" stroke-width="1.8"/>
<text x="612.6" y="574.4" font-family='"Liberation Serif", serif' font-size="13.5" fill="#000" stroke="#000" stroke-width="0.2">Blasius Eq.</text>
<path d="M708.7 566.27L712.19 573.33L705.21 573.33Z" fill="#fff" stroke="#A5A5A5" stroke-width="1.95" stroke-linejoin="round"/>
<text x="726.2" y="574.4" font-family='"Liberation Serif", serif' font-size="13.5" fill="#000" stroke="#000" stroke-width="0.2">Petukhov</text>
</svg></body></html>
